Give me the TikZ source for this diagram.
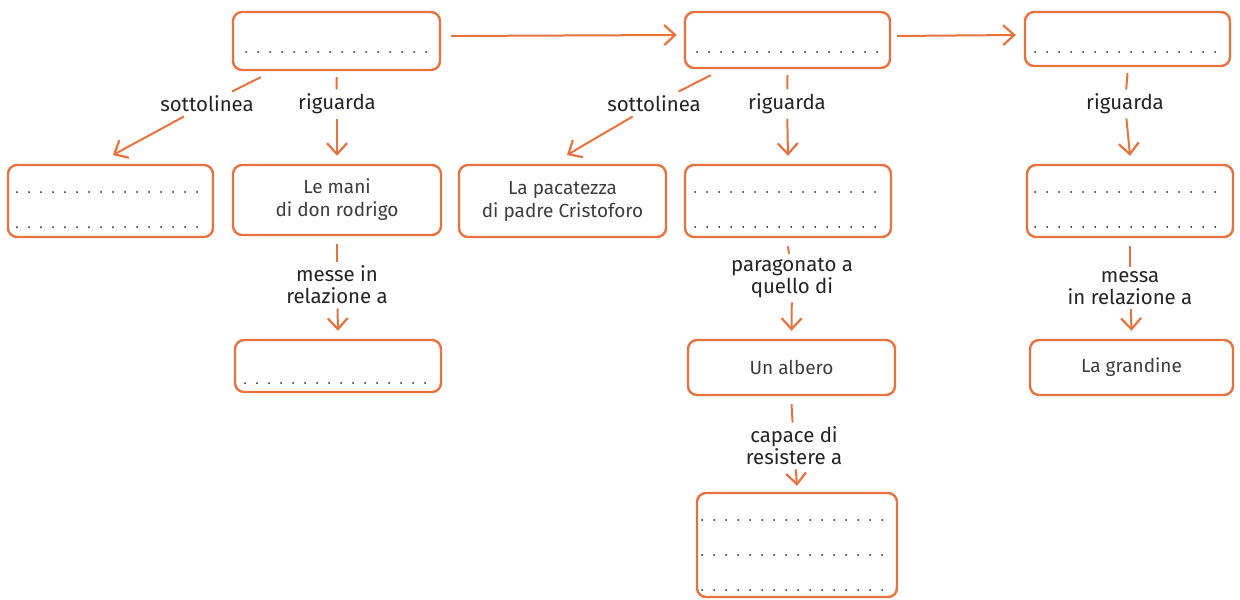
\documentclass[tikz,border=0pt]{standalone}
\usepackage{fontspec}
\setmainfont{Fira Sans}
\usetikzlibrary{arrows.meta}
\definecolor{org}{RGB}{232,114,62}
\definecolor{txt}{RGB}{35,35,35}
\definecolor{btxt}{RGB}{60,60,60}
\begin{document}
\begin{tikzpicture}[x=0.5pt,y=-0.5pt,
  box/.style 2 args={draw=org,line width=1.2pt,rounded corners=4.5pt,inner sep=0pt,
    minimum width=#1*0.5pt,minimum height=#2*0.5pt,align=center,text=btxt,
    font=\fontsize{9.5}{11.5}\selectfont},
  lab/.style={align=center,text=txt,inner sep=2pt,font=\fontsize{10.2}{11}\selectfont},
  con/.style={draw=org,line width=1pt},
  arr/.style={con,-{Straight Barb[length=5.5pt,width=10pt,line width=1.1pt]}},
  dotrow/.style={draw=txt,line width=1pt,line cap=round,dash pattern=on 0pt off 6pt}]
\useasboundingbox (0,0) rectangle (1240,599);

% boxes
\node[box={207}{58}] (A) at (336.5,41) {};
\node[box={205}{56}] (B) at (787.5,40) {};
\node[box={205}{54}] (C) at (1127.5,39) {};
\node[box={205}{72}] (D) at (110.5,201) {};
\node[box={208}{70}] (E) at (337,200) {Le mani\\di don rodrigo};
\node[box={207}{72}] (F) at (562.5,201) {La pacatezza\\di padre Cristoforo};
\node[box={206}{72}] (G) at (788,201) {};
\node[box={206}{72}] (H) at (1130,201) {};
\node[box={206}{52}] (I) at (338,366) {};
\node[box={207}{55}] (J) at (791.5,367.5) {Un albero};
\node[box={203}{55}] (K) at (1131.5,367.5) {La grandine};
\node[box={200}{104}] (L) at (797,545) {};

% dotted writing lines
\draw[dotrow] (246,52) -- (434,52);
\draw[dotrow] (697,52) -- (885,52);
\draw[dotrow] (1035,52) -- (1223,52);
\draw[dotrow] (17,192) -- (205,192);
\draw[dotrow] (17,227) -- (205,227);
\draw[dotrow] (695,192) -- (883,192);
\draw[dotrow] (695,227) -- (883,227);
\draw[dotrow] (1035,192) -- (1223,192);
\draw[dotrow] (1035,227) -- (1223,227);
\draw[dotrow] (245,383) -- (433,383);
\draw[dotrow] (702,520) -- (890,520);
\draw[dotrow] (702,555) -- (890,555);
\draw[dotrow] (702,590) -- (890,590);

% labels
\node[lab] (lAD) at (207,104) {sottolinea};
\node[lab] (lAE) at (337,104) {riguarda};
\node[lab] (lBF) at (654,104) {sottolinea};
\node[lab] (lBG) at (787,104) {riguarda};
\node[lab] (lCH) at (1125,104) {riguarda};
\node[lab] (lEI) at (337,285) {messe in\\relazione a};
\node[lab] (lGJ) at (792,278) {paragonato a\\quello di};
\node[lab] (lJL) at (794,446) {capace di\\resistere a};
\node[lab] (lHK) at (1130,288) {messa\\in relazione a};

\coordinate (eD) at (113,155);
\coordinate (eF) at (567,155);

% connectors
\draw[arr] ([xshift=5pt,yshift=2.5pt]A.east) -- ([xshift=-3.5pt,yshift=2.5pt]B.west);
\draw[arr] ([xshift=3pt,yshift=2pt]B.east) -- ([xshift=-4pt,yshift=2pt]C.west);

\draw[con] ([xshift=14.5pt,yshift=-3pt]A.south west) -- (lAD);
\draw[arr] (lAD) -- (eD);
\draw[con] ([yshift=-3pt]A.south) -- (lAE);
\draw[arr] (lAE) -- ([yshift=4pt]E.north);

\draw[con] ([xshift=13.5pt,yshift=-3pt]B.south west) -- (lBF);
\draw[arr] (lBF) -- (eF);
\draw[con] ([yshift=-3pt]B.south) -- (lBG);
\draw[arr] (lBG) -- ([yshift=4pt]G.north);

\draw[con] ([yshift=-3pt]C.south) -- (lCH);
\draw[arr] (lCH) -- ([yshift=4pt]H.north);

\draw[con] ([yshift=-4pt]E.south) -- (lEI);
\draw[arr] (lEI) -- ([yshift=4pt]I.north);
\draw[con] ([yshift=-4pt]G.south) -- (lGJ);
\draw[arr] (lGJ) -- ([yshift=4pt]J.north);
\draw[con] ([yshift=-4pt]J.south) -- (lJL);
\draw[arr] (lJL) -- ([yshift=3pt]L.north);
\draw[con] ([yshift=-4pt]H.south) -- (lHK);
\draw[arr] (lHK) -- ([yshift=4pt]K.north);
\end{tikzpicture}
\end{document}
